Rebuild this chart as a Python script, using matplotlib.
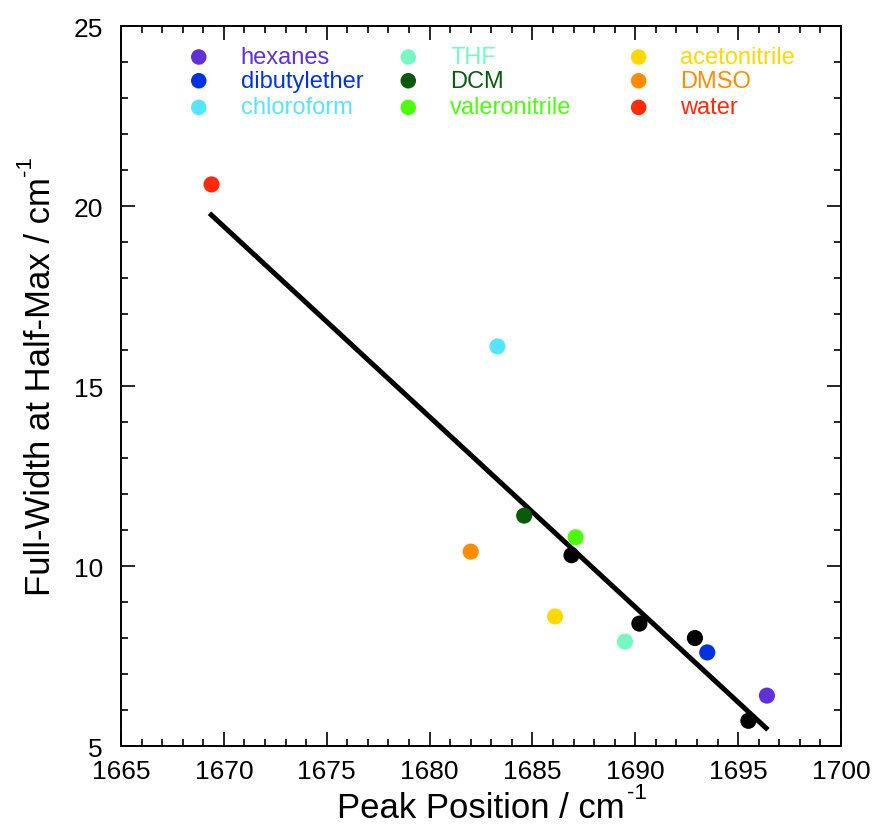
import matplotlib
matplotlib.use("Agg")
import matplotlib.pyplot as plt
from matplotlib.ticker import MultipleLocator
from matplotlib.transforms import offset_copy

plt.rcParams['font.family'] = ['Liberation Sans', 'DejaVu Sans']

# solvent points
solvents = ["hexanes", "dibutylether", "chloroform",
            "THF", "DCM", "valeronitrile",
            "acetonitrile", "DMSO", "water"]
peak_pos = [1696.4, 1693.5, 1683.3, 1689.5, 1684.6, 1687.1, 1686.1, 1682.0, 1669.4]
fwhm = [6.4, 7.6, 16.1, 7.9, 11.4, 10.8, 8.6, 10.4, 20.6]
colors = ["#6030D8", "#0033DD", "#55E5FF",
          "#77F7C4", "#0B5A0B", "#4CFF0A",
          "#FFD800", "#FF8C00", "#FF2A0A"]

# black points
black_x = [1686.9, 1690.2, 1692.9, 1695.5]
black_y = [10.3, 8.4, 8.0, 5.7]

# linear fit endpoints
fit_x = [1669.3, 1696.45]
fit_y = [19.8, 5.45]

fig = plt.figure(figsize=(8.75, 8.29), dpi=100)
ax = fig.add_axes([0.1383, 0.0989, 0.8228, 0.8685])

ax.plot(fit_x, fit_y, color="black", lw=3.6, solid_capstyle="butt", zorder=2)
ax.scatter(black_x, black_y, s=135, color="black", edgecolors="none", zorder=3)
ax.scatter(peak_pos, fwhm, s=135, c=colors, edgecolors="none", zorder=4)

ax.set_xlim(1665, 1700)
ax.set_ylim(5, 25)
ax.xaxis.set_major_locator(MultipleLocator(5))
ax.xaxis.set_minor_locator(MultipleLocator(1))
ax.yaxis.set_major_locator(MultipleLocator(5))
ax.yaxis.set_minor_locator(MultipleLocator(1))
ax.tick_params(which="both", direction="in", top=True, right=True, width=1.2)
ax.tick_params(which="major", length=10, labelsize=19)
ax.tick_params(axis="x", which="major", pad=9)
ax.tick_params(axis="y", which="major", pad=13)
ax.tick_params(which="minor", length=5)
for s in ax.spines.values():
    s.set_linewidth(1.4)

xl = ax.set_xlabel("Peak Position / cm", fontsize=25, labelpad=6)
yl = ax.set_ylabel("Full-Width at Half-Max / cm", fontsize=25, labelpad=12)

# legend drawn by hand in three columns
col_x = [0.108, 0.399, 0.719]
row_y = [0.957, 0.924, 0.887]
for i, (name, col) in enumerate(zip(solvents, colors)):
    cx = col_x[i // 3]
    ry = row_y[i % 3]
    ax.scatter([cx], [ry], s=125, color=col, edgecolors="none",
               transform=ax.transAxes, clip_on=False)
    ax.text(cx + 0.058, ry, name, color=col, fontsize=17,
            va="center", ha="left", transform=ax.transAxes)

# "-1" superscripts after the axis labels
fig.canvas.draw()
inv = fig.transFigure.inverted()
bx = xl.get_window_extent()
p = inv.transform((bx.x1, bx.y1))
fig.text(p[0], p[1], "-1", fontsize=16, ha="left", va="center",
         transform=offset_copy(fig.transFigure, fig=fig, x=2, y=-2, units="dots"))
by = yl.get_window_extent()
p = inv.transform((by.x0, by.y1))
fig.text(p[0], p[1], "-1", fontsize=16, ha="center", va="bottom", rotation=90,
         transform=offset_copy(fig.transFigure, fig=fig, x=2, y=2, units="dots"))

fig.savefig("out.png", dpi=100)
